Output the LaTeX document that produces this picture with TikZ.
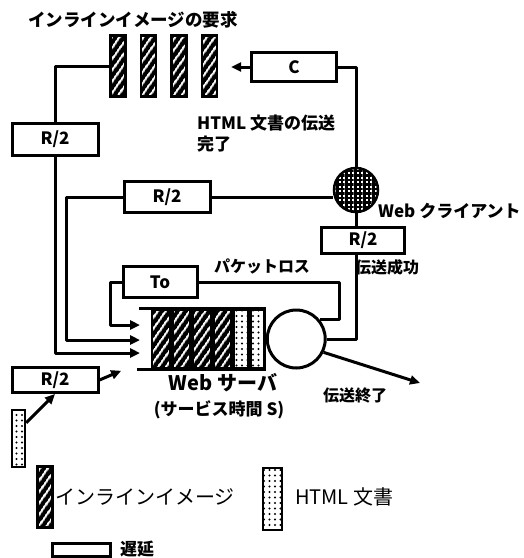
\documentclass[tikz,border=0pt]{standalone}
\usepackage{fontspec}
\newfontfamily\jp{Noto Sans CJK JP}
\usetikzlibrary{arrows.meta, patterns.meta, positioning}

\begin{document}
\begin{tikzpicture}[
    x=1pt, y=-1pt,
    line/.style={line width=3pt, line join=round},
    arrow/.style={line, -{Triangle[length=10pt, width=9pt]}},
    delay/.style={rectangle, draw, line width=3pt, fill=white, inner sep=0pt,
                  font=\jp\bfseries\fontsize{17}{19}\selectfont},
    imgbar/.style={rectangle, draw, line width=2.5pt, inner sep=0pt,
                   minimum width=15pt, minimum height=61pt,
                   preaction={fill=black},
                   pattern={Lines[angle=55, distance=6.5pt, line width=2.2pt]},
                   pattern color=white},
    htmlbar/.style={rectangle, draw, line width=2.5pt, inner sep=0pt,
                    minimum width=13pt, minimum height=57pt,
                    preaction={fill=white},
                    pattern={Dots[radius=1.2pt, distance=5.5pt]},
                    pattern color=black},
    client/.style={circle, draw, line width=2.5pt, minimum size=44pt, inner sep=0pt,
                   preaction={fill=white},
                   pattern={Hatch[distance=4.5pt, line width=2.8pt]},
                   pattern color=black},
    server/.style={circle, draw, line width=3pt, fill=white,
                   minimum size=58pt, inner sep=0pt},
    txt/.style={font=\jp\bfseries\fontsize{16}{21}\selectfont, inner sep=0pt},
    keytxt/.style={font=\jp\fontsize{20}{24}\selectfont, inner sep=0pt, anchor=west}
]
\useasboundingbox (0,0) rectangle (524,558);

% Inline image requests
\node[txt, font=\jp\bfseries\fontsize{17.5}{20}\selectfont] (request) at (133,20) {インラインイメージの要求};
\node[imgbar] (img1) at (118,66) {};
\node[imgbar, right=13pt of img1] (img2) {};
\node[imgbar, right=13pt of img2] (img3) {};
\node[imgbar, right=13pt of img3] (img4) {};

% Client side
\node[delay, minimum width=85pt, minimum height=29pt] (cbox) at (294,67) {C};
\node[client] (client) at (356,190) {};
\node[txt, anchor=west, font=\jp\bfseries\fontsize{17}{20}\selectfont] (clientname) at (378,211) {Web クライアント};
\node[txt, align=left, anchor=north west, font=\jp\bfseries\fontsize{17}{21}\selectfont] (htmldone) at (197,115) {HTML 文書の伝送\\完了};
\node[delay, minimum width=83pt, minimum height=26pt] (rclient) at (363,240) {R/2};
\node[txt, anchor=west] (success) at (355,267) {伝送成功};

% Delays back to the server
\node[delay, minimum width=86pt, minimum height=31pt] (rmid) at (167,197) {R/2};
\node[delay, minimum width=86pt, minimum height=32pt] (rleft) at (55,139) {R/2};
\node[delay, minimum width=74pt, minimum height=31pt] (tobox) at (160,282) {To};
\node[txt] (loss) at (262,266) {パケットロス};

% Server queue
\node[imgbar, minimum width=18pt, minimum height=58pt] (q1) at (161,339) {};
\node[imgbar, minimum width=18pt, minimum height=58pt, right=0pt of q1] (q2) {};
\node[imgbar, minimum width=18pt, minimum height=58pt, right=0pt of q2] (q3) {};
\node[imgbar, minimum width=18pt, minimum height=58pt, right=0pt of q3] (q4) {};
\node[htmlbar, minimum width=14pt, minimum height=58pt, right=0pt of q4] (q5) {};
\node[htmlbar, minimum width=14pt, minimum height=58pt, right=0pt of q5] (q6) {};
\node[server, right=0pt of q6] (server) {};
\draw[line] ([xshift=-12pt]q1.north west) -- (q6.north east);
\draw[line] ([xshift=-14pt]q1.south west) -- (q6.south east);
\node[txt, font=\jp\bfseries\fontsize{20}{24}\selectfont] (srvname) at (223,383) {Web サーバ};
\node[txt, font=\jp\bfseries\fontsize{17}{20}\selectfont] (srvtime) at (219,410) {(サービス時間 S)};

% New HTML document
\node[delay, minimum width=86pt, minimum height=25pt] (rlow) at (55,380) {R/2};
\node[htmlbar] (newdoc) at (18.5,438.5) {};

\coordinate (in1) at (140,325);
\coordinate (in2) at (140,340);
\coordinate (in3) at (140,353);
\coordinate (in4) at (123,370);
\coordinate (exit) at (420,383);
\node[txt] (done) at (355,395) {伝送終了};

% Connectors
\draw[arrow] (cbox.west) -- ([xshift=13pt]cbox.west -| img4.east);
\draw[line] (client.north) |- (cbox.east);
\draw[line] (client.south) -- (client.south |- rclient.north);
\draw[line] (client.south |- rclient.south) |- (server.east);
\draw[line] (rmid.east) -- (rmid.east -| client.west);
\draw[arrow] (rmid.west) -- ++(-56,0) |- (in2);
\draw[line] (img1.west) -| (rleft.north);
\draw[arrow] (rleft.south) |- (in3);
\draw[line] (tobox.east) -- ++(141,0) |- (server.40);
\draw[arrow] (tobox.west) -- ++(-11,0) |- (in1);
\draw[arrow, shorten >=2pt] (rlow.east) -- (in4);
\draw[arrow] ([yshift=-14pt]newdoc.north east) -- (rlow.south);
\draw[arrow] (server.-26) -- (exit);

% Legend
\node[imgbar] (keyimg) at (45,497) {};
\node[keytxt] (keyimgtxt) at (55,497) {インラインイメージ};
\node[htmlbar, minimum width=19pt, minimum height=62pt] (keyhtml) at (272.5,499) {};
\node[keytxt] (keyhtmltxt) at (295,497) {HTML 文書};
\node[delay, minimum width=58pt, minimum height=13pt] (keydelay) at (81,550) {};
\node[keytxt, font=\jp\bfseries\fontsize{17}{18}\selectfont] (keydelaytxt) at (120,549) {遅延};

\end{tikzpicture}
\end{document}
